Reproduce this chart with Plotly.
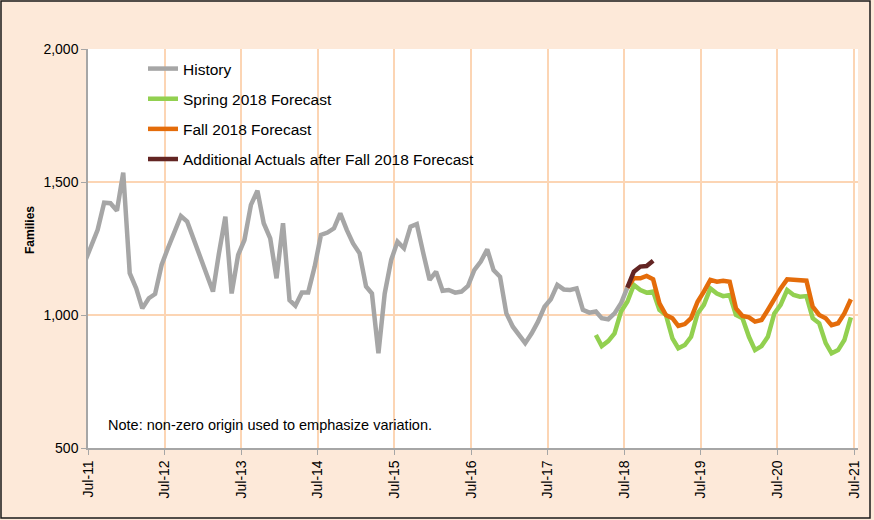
import pandas as pd
import plotly.graph_objects as go

# ---- data (monthly, plotted mid-month) ----
history_start = "2011-06-01"
history_values = [1200, 1255, 1320, 1422, 1420, 1392, 1535, 1157, 1100, 1025, 1063, 1079,
                  1188, 1251, 1309, 1372, 1351, 1285, 1220, 1155, 1088, 1230, 1370, 1081,
                  1226, 1282, 1414, 1467, 1345, 1288, 1138, 1345, 1056, 1035, 1085, 1085,
                  1182, 1301, 1310, 1326, 1382, 1320, 1269, 1232, 1107, 1081, 856, 1081,
                  1207, 1276, 1251, 1332, 1342, 1232, 1132, 1163, 1091, 1094, 1084, 1088,
                  1109, 1169, 1201, 1247, 1169, 1144, 1006, 956, 925, 894, 931, 975,
                  1031, 1059, 1113, 1096, 1094, 1100, 1019, 1009, 1013, 988, 984, 1006,
                  1044, 1103]

spring_start = "2018-02-01"
spring_values = [925, 883, 902, 931, 1013, 1050, 1113, 1094, 1084, 1088, 1019, 1000,
                 912, 875, 887, 918, 1006, 1038, 1100, 1081, 1071, 1075, 1000, 988,
                 918, 868, 883, 918, 1006, 1038, 1094, 1075, 1069, 1071, 988, 969,
                 894, 856, 868, 906, 991]

fall_start = "2018-07-01"
fall_values = [1103, 1138, 1138, 1147, 1134, 1044, 1000, 988, 959, 966, 988, 1050,
               1088, 1132, 1125, 1129, 1125, 1025, 996, 991, 975, 981, 1019, 1063,
               1100, 1134, 1132, 1134, 1129, 1031, 1000, 988, 962, 969, 1006, 1059]

actual_start = "2018-07-01"
actual_values = [1103, 1163, 1182, 1184, 1204]

x_tick_labels = ["Jul-11", "Jul-12", "Jul-13", "Jul-14", "Jul-15", "Jul-16",
                 "Jul-17", "Jul-18", "Jul-19", "Jul-20", "Jul-21"]
x_tick_dates = pd.date_range("2011-07-01", periods=len(x_tick_labels), freq="12MS")


def month_dates(start, n):
    return pd.date_range(start, periods=n, freq="MS") + pd.Timedelta(days=15)


series = [
    ("History", history_start, history_values, "#A6A6A6"),
    ("Spring 2018 Forecast", spring_start, spring_values, "#92D050"),
    ("Fall 2018 Forecast", fall_start, fall_values, "#E46C0A"),
    ("Additional Actuals after Fall 2018 Forecast", actual_start, actual_values, "#632523"),
]

fig = go.Figure()
for i, (name, start, vals, color) in enumerate(series):
    fig.add_trace(go.Scatter(
        x=month_dates(start, len(vals)), y=vals, mode="lines", name=name,
        legendgroup=f"g{i}",
        line=dict(color=color, width=4.5),
    ))

W, H = 874, 520
L, R, T, B = 88, 16, 49, 72
pw, ph = W - L - R, H - T - B


def px(xp):
    return (xp - L) / pw


def py(yp):
    return (H - B - yp) / ph


fig.update_layout(
    width=W, height=H,
    margin=dict(l=L, r=R, t=T, b=B),
    paper_bgcolor="#FDE9D9",
    plot_bgcolor="#FFFFFF",
    font=dict(family="Liberation Sans, Arial, sans-serif", color="#000000", size=14),
    showlegend=True,
    legend=dict(
        x=px(143), y=py(52), xanchor="left", yanchor="top",
        bgcolor="rgba(0,0,0,0)", font=dict(size=15.5),
        tracegroupgap=7, itemwidth=30,
    ),
    xaxis=dict(
        type="date",
        range=["2011-07-01", "2021-07-20"],
        tickmode="array", tickvals=x_tick_dates, ticktext=x_tick_labels,
        tickangle=-90, ticks="outside", ticklen=5, tickcolor="#A6A6A6",
        showgrid=True, gridcolor="#FCD5B4", gridwidth=1.5,
        showline=True, linecolor="#A6A6A6", linewidth=1.5,
        zeroline=False, tickfont=dict(size=14),
    ),
    yaxis=dict(
        range=[500, 2000], tickvals=[500, 1000, 1500, 2000], tickformat=",",
        ticks="outside", ticklen=5, tickcolor="#A6A6A6",
        showgrid=True, gridcolor="#FCD5B4", gridwidth=1.5,
        showline=True, linecolor="#A6A6A6", linewidth=1.5,
        zeroline=False, tickfont=dict(size=14),
    ),
    annotations=[
        dict(text="<b>Families</b>", x=px(30), y=py(230), xref="paper", yref="paper",
             xanchor="center", yanchor="middle",
             textangle=-90, showarrow=False, font=dict(size=12)),
        dict(text="Note: non-zero origin used to emphasize variation.",
             x=px(106), y=py(425), xref="paper", yref="paper",
             xanchor="left", yanchor="middle",
             showarrow=False, font=dict(size=14.5)),
    ],
    shapes=[
        dict(type="rect", xref="paper", yref="paper",
             x0=px(1), x1=px(870), y0=py(518), y1=py(1),
             line=dict(color="#1A1A1A", width=1.5), layer="below"),
    ],
)

fig.write_html(
    "out.html",
    config={"displayModeBar": False},
    post_script="document.body.style.margin='0';document.body.style.padding='0';",
)
